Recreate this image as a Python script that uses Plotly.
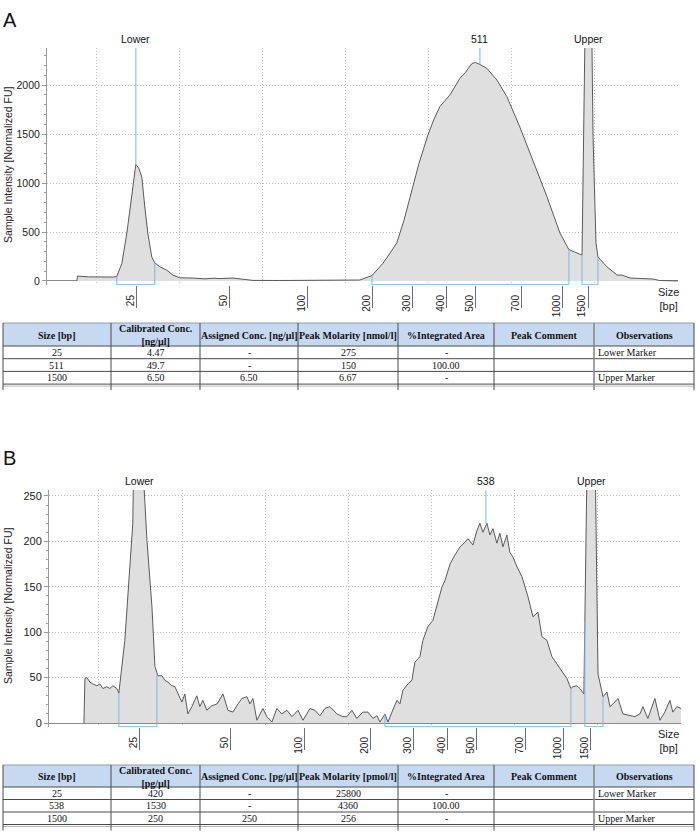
import plotly.graph_objects as go

W, H = 697, 839

# ---------------- Data: panel A (migration time [s] vs normalized FU) ----------------
a_time = [3.80, 3.83, 4.5, 5.18, 5.5, 5.78, 6.0, 6.20, 6.51, 6.81, 7.11, 7.35, 7.53, 7.71, 7.89,
          8.07, 8.31, 8.49, 8.80, 9.22, 9.58, 10.0, 10.78, 11.5, 12.0, 12.41, 13.19, 14.04, 14.40,
          16.0, 17.2, 19.0, 20.84, 21.57, 22.23, 22.6, 23.07, 23.5, 23.98, 24.4, 24.94, 25.3,
          25.66, 26.27, 26.87, 27.2, 27.59, 27.8, 28.07, 28.49, 29.10, 29.70, 30.48, 31.27,
          32.11, 32.89, 33.43, 34.22, 34.37, 34.46, 34.61, 34.76, 34.88, 35.06, 35.18, 35.72,
          36.33, 36.63, 37.11, 38.49, 38.89, 39.98]
a_fu = [0, 50, 42, 40, 38, 35, 40, 45, 180, 490, 900, 1190, 1150, 1060, 755,
        490, 245, 185, 145, 110, 60, 32, 30, 22, 28, 25, 30, 18, 6,
        5, 6, 4, 10, 55, 180, 270, 390, 620, 930, 1200, 1490, 1650,
        1780, 1900, 2070, 2130, 2220, 2230, 2210, 2170, 2050, 1880, 1570, 1230,
        860, 490, 320, 265, 2000, 3300, 4500, 3300, 1500, 390, 245, 145,
        60, 60, 30, 20, 5, 0]
a_tick_time = [7.41, 13.01, 17.71, 21.63, 24.04, 26.08, 27.83, 30.60, 33.07, 34.58]
a_tick_size = ["25", "50", "100", "200", "300", "400", "500", "700", "1000", "1500"]
a_peak_label = ["Lower", "511", "Upper"]
a_peak_time = [7.35, 28.07, 34.61]
a_peak_fu = [1190, 2215, 4500]
a_win_start = [6.20, 21.57, 34.22]
a_win_end = [8.49, 33.43, 35.18]
a_ymax = 2378

# ---------------- Data: panel B ----------------
b_time = [4.10, 4.16, 4.28, 4.46, 4.64, 4.88, 5.06, 5.24, 5.48, 5.66, 5.84, 6.08, 6.20, 6.56,
          6.86, 7.04, 7.45, 7.72, 7.89, 8.19, 8.37, 8.55, 8.79, 8.97, 9.15, 9.39, 9.57, 9.75,
          9.99, 10.17, 10.35, 10.59, 10.89, 11.07, 11.25, 11.49, 11.79, 12.10, 12.46, 12.76,
          13.06, 13.36, 13.60, 13.90, 14.08, 14.26, 14.50, 14.86, 15.10, 15.40, 15.70, 16.00,
          16.31, 16.61, 16.97, 17.27, 17.69, 17.99, 18.29, 18.59, 18.89, 19.31, 19.67, 19.91,
          20.21, 20.51, 20.87, 21.18, 21.48, 21.72, 21.90, 22.20, 22.38, 22.62, 22.92, 23.10,
          23.28, 23.58, 23.82, 24.00, 24.30, 24.48, 24.78, 25.08, 25.32, 25.63, 25.81, 26.11,
          26.41, 26.71, 27.01, 27.19, 27.49, 27.73, 27.91, 28.09, 28.33, 28.51, 28.69, 28.93,
          29.11, 29.29, 29.53, 29.71, 29.89, 30.14, 30.44, 30.62, 30.80, 31.10, 31.40, 31.64,
          31.94, 32.24, 32.54, 32.84, 33.14, 33.38, 33.50, 33.74, 33.92, 34.16, 34.60, 35.01,
          35.31, 35.55, 35.73, 35.91, 36.21, 36.51, 36.93, 37.23, 37.53, 37.71, 38.01, 38.43,
          38.73, 39.03, 39.33, 39.51, 39.75, 40.0]
b_fu = [0, 49, 50, 45, 43, 41, 43, 38, 40, 38, 41, 38, 33, 91,
        172, 220, 800, 258, 201, 128, 62, 52, 52, 47, 45, 41, 40, 32,
        23, 32, 10, 18, 30, 18, 25, 14, 19, 21, 32, 14,
        12, 21, 27, 29, 21, 27, 3, 16, 7, 1, 16, 10,
        14, 7, 14, 3, 16, 14, 8, 16, 18, 10, 7, 7,
        14, 5, 12, 12, 5, 8, 1, 10, 1, 12, 25, 21,
        36, 43, 47, 67, 73, 91, 106, 113, 128, 150, 157, 175,
        185, 194, 199, 203, 196, 212, 220, 210, 220, 207, 214, 198,
        209, 194, 207, 188, 183, 172, 161, 150, 139, 117, 122, 95,
        91, 73, 65, 58, 49, 38, 40, 41, 38, 32, 620, 54,
        29, 34, 18, 21, 27, 10, 8, 7, 10, 18, 5, 27,
        3, 12, 25, 12, 18, 16]
b_tick_time = [7.47, 12.94, 17.39, 21.36, 23.94, 25.99, 27.73, 30.68, 32.96, 34.58]
b_tick_size = ["25", "50", "100", "200", "300", "400", "500", "700", "1000", "1500"]
b_peak_label = ["Lower", "538", "Upper"]
b_peak_time = [7.45, 28.27, 34.60]
b_peak_fu = [800, 220, 620]
b_win_start = [6.20, 22.20, 34.22]
b_win_end = [8.49, 33.38, 35.31]
b_ymax = 256.6

grid_time = [5, 10, 15, 20, 25, 30, 35, 40]

# ---------------- Tables ----------------
tab_cols = ["Size [bp]", "Calibrated Conc.<br>[{u}]", "Assigned Conc. [{u}]", "Peak Molarity [{m}]",
            "%Integrated Area", "Peak Comment", "Observations"]
a_unit, a_mol = "ng/µl", "nmol/l"
b_unit, b_mol = "pg/µl", "pmol/l"
a_size = ["25", "511", "1500"]
a_cal = ["4.47", "49.7", "6.50"]
a_assigned = ["-", "-", "6.50"]
a_molarity = ["275", "150", "6.67"]
a_area = ["-", "100.00", "-"]
a_comment = ["", "", ""]
a_obs = ["Lower Marker", "", "Upper Marker"]
b_size = ["25", "538", "1500"]
b_cal = ["420", "1530", "250"]
b_assigned = ["-", "-", "250"]
b_molarity = ["25800", "4360", "256"]
b_area = ["-", "100.00", "-"]
b_comment = ["", "", ""]
b_obs = ["Lower Marker", "", "Upper Marker"]

# ---------------- Styling ----------------
FILL = "#dfdfdf"
LINE = "#5a5a5a"
BLUE = "#8cc3ee"
GRID = "#bdbdbd"
GRID_DASH = "1px,2px"
SANS = "Liberation Sans, Arial, sans-serif"
SERIF = "Liberation Serif, Times New Roman, serif"


def px_x(p):
    return p / W


def px_y(p):
    return 1 - p / H


fig = go.Figure()

panels = [
    dict(xa="x", ya="y", t=a_time, v=a_fu, ticks=a_tick_time, ticktext=a_tick_size,
         labels=a_peak_label, pt=a_peak_time, pv=a_peak_fu, ws=a_win_start, we=a_win_end,
         ymax=a_ymax, ybot=-41, dom_x=(47, 678), dom_y=(48, 285), ydt=500, ymin_dt=100,
         yfont=10.5, title_y=165),
    dict(xa="x2", ya="y2", t=b_time, v=b_fu, ticks=b_tick_time, ticktext=b_tick_size,
         labels=b_peak_label, pt=b_peak_time, pv=b_peak_fu, ws=b_win_start, we=b_win_end,
         ymax=b_ymax, ybot=-4.4, dom_x=(49, 681), dom_y=(490, 727), ydt=50, ymin_dt=10,
         yfont=11, title_y=606),
]

shapes = []
annotations = []


def interp(x, xs, ys):
    for i in range(len(xs) - 1):
        if xs[i] <= x <= xs[i + 1]:
            f = (x - xs[i]) / (xs[i + 1] - xs[i])
            return ys[i] + f * (ys[i + 1] - ys[i])
    return 0


def ann(text, x, y, xanchor="center", yanchor="middle", **kw):
    d = dict(text=text, x=x, y=y, xref="paper", yref="paper", xanchor=xanchor,
             yanchor=yanchor, showarrow=False)
    d.update(kw)
    annotations.append(d)


for i, p in enumerate(panels):
    fig.add_trace(go.Scatter(x=p["t"], y=p["v"], mode="lines", fill="tozeroy",
                             fillcolor=FILL, line=dict(color=LINE, width=1),
                             xaxis=p["xa"], yaxis=p["ya"], showlegend=False, hoverinfo="skip"))
    suffix = "" if i == 0 else "2"
    fig.update_layout(**{
        "xaxis" + suffix: dict(
            domain=[px_x(p["dom_x"][0]), px_x(p["dom_x"][1])], range=[2, 40],
            anchor=p["ya"], automargin=False, showgrid=False, zeroline=False, showline=False,
            tickmode="array", tickvals=p["ticks"], ticktext=p["ticktext"],
            ticks="outside", ticklen=22, tickcolor="#6e6e6e", tickwidth=1,
            tickangle=-90, ticklabelstandoff=-17, ticklabelshift=-6,
            tickfont=dict(family=SANS, size=10, color="#222"),
            minor=dict(tickmode="array", tickvals=grid_time, showgrid=True,
                       gridcolor=GRID, griddash=GRID_DASH, gridwidth=1, ticks=""),
        ),
        "yaxis" + suffix: dict(
            domain=[px_y(p["dom_y"][1]), px_y(p["dom_y"][0])], range=[p["ybot"], p["ymax"]],
            anchor=p["xa"], automargin=False, dtick=p["ydt"], tick0=0, showgrid=True,
            gridcolor=GRID, griddash=GRID_DASH, zeroline=True, zerolinecolor="#8a8a8a",
            zerolinewidth=1, showline=True, linecolor="#9a9a9a", linewidth=1,
            ticks="outside", ticklen=4, tickcolor="#9a9a9a",
            tickfont=dict(family=SANS, size=p["yfont"], color="#222"),
            minor=dict(dtick=p["ymin_dt"], ticks="outside", ticklen=2, tickcolor="#9a9a9a"),
        ),
    })
    # peak markers
    for lab, t, v in zip(p["labels"], p["pt"], p["pv"]):
        if v < p["ymax"]:
            shapes.append(dict(type="line", xref=p["xa"], yref=p["ya"], x0=t, x1=t,
                               y0=v, y1=p["ymax"], line=dict(color=BLUE, width=1.2)))
        annotations.append(dict(text=lab, x=t, xref=p["xa"], y=1, yref=p["ya"] + " domain",
                                xanchor="center", yanchor="bottom", yshift=1, showarrow=False,
                                font=dict(family=SANS, size=10.5, color="#111")))
    # integration windows
    yb = p["ybot"] * 0.92
    for s, e in zip(p["ws"], p["we"]):
        ys = interp(s, p["t"], p["v"])
        ye = interp(e, p["t"], p["v"])
        shapes.append(dict(type="path", xref=p["xa"], yref=p["ya"],
                           path=f"M {s},{ys} L {s},{yb} L {e},{yb} L {e},{ye}",
                           line=dict(color="#7fb5e6", width=1)))
    # y-axis title
    ann("Sample Intensity [Normalized FU]", px_x(8), px_y(p["title_y"]), textangle=-90,
        font=dict(family=SANS, size=10.5, color="#222"))
    # Size [bp] label
    ann("Size<br>[bp]", px_x(668), px_y(p["dom_y"][1] - 1), yanchor="top", align="center",
        font=dict(family=SANS, size=11, color="#222"))

# Panel letters
ann("A", px_x(1), px_y(7), xanchor="left", yanchor="top", font=dict(family=SANS, size=20, color="#111"))
ann("B", px_x(1), px_y(445), xanchor="left", yanchor="top", font=dict(family=SANS, size=20, color="#111"))

# ---------------- Tables drawn with shapes + text ----------------
col_edges = [3, 111, 200, 298, 398, 494, 594, 694]
TAB_LINE = "#4a4a4a"


def draw_table(unit, mol, cols, top, header_h, row_h):
    hdr_bottom = top + header_h
    n_rows = len(cols[0])
    bottom = hdr_bottom + n_rows * row_h
    shapes.append(dict(type="rect", xref="paper", yref="paper",
                       x0=px_x(col_edges[0]), x1=px_x(col_edges[-1]), y0=px_y(hdr_bottom), y1=px_y(top),
                       fillcolor="#c6d9f1", line=dict(width=0), layer="below"))
    ys = [top, hdr_bottom] + [hdr_bottom + (r + 1) * row_h for r in range(n_rows)]
    for k, yy in enumerate(ys):
        shapes.append(dict(type="line", xref="paper", yref="paper",
                           x0=px_x(col_edges[0]), x1=px_x(col_edges[-1]), y0=px_y(yy), y1=px_y(yy),
                           line=dict(color="#9a9a9a" if k == 0 else TAB_LINE, width=1)))
    shapes.append(dict(type="line", xref="paper", yref="paper",
                       x0=px_x(col_edges[0]), x1=px_x(col_edges[-1]), y0=px_y(bottom + 2), y1=px_y(bottom + 2),
                       line=dict(color="#b8b8b8", width=1)))
    for k, xx in enumerate(col_edges):
        shapes.append(dict(type="line", xref="paper", yref="paper",
                           x0=px_x(xx), x1=px_x(xx), y0=px_y(bottom + 6), y1=px_y(top),
                           line=dict(color="#8a8a8a" if k == 6 else TAB_LINE,
                                     width=1.6 if k == 6 else 1)))
    for c, name in enumerate(tab_cols):
        ann("<b>" + name.format(u=unit, m=mol) + "</b>",
            px_x((col_edges[c] + col_edges[c + 1]) / 2), px_y(top + header_h / 2 + 0.5),
            align="center", font=dict(family=SERIF, size=10, color="#111"))
    for c, col in enumerate(cols):
        for r, val in enumerate(col):
            if not val:
                continue
            yc = px_y(hdr_bottom + (r + 0.5) * row_h)
            if c == 6:
                ann(val, px_x(col_edges[c] + 2), yc, xanchor="left",
                    font=dict(family=SERIF, size=10, color="#111"))
            else:
                ann(val, px_x((col_edges[c] + col_edges[c + 1]) / 2), yc,
                    font=dict(family=SERIF, size=10, color="#111"))


draw_table(a_unit, a_mol, [a_size, a_cal, a_assigned, a_molarity, a_area, a_comment, a_obs],
           323, 23, 12.7)
draw_table(b_unit, b_mol, [b_size, b_cal, b_assigned, b_molarity, b_area, b_comment, b_obs],
           765, 22, 12.5)

fig.update_layout(width=W, height=H, margin=dict(l=0, r=0, t=0, b=0, autoexpand=False),
                  paper_bgcolor="white", plot_bgcolor="white",
                  shapes=shapes, annotations=annotations, showlegend=False)

# remove the browser's default 8px page margin so the figure starts at the window corner
fig.write_html("out.html", config={"displayModeBar": False},
               post_script="document.body.style.margin='0';")
